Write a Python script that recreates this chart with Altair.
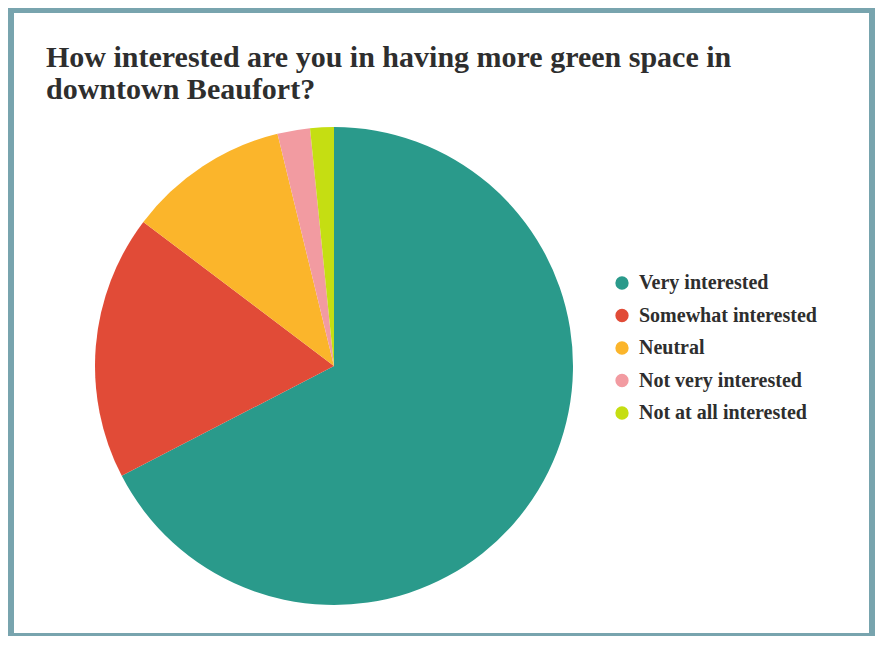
import altair as alt
import pandas as pd

categories = ["Very interested", "Somewhat interested", "Neutral",
              "Not very interested", "Not at all interested"]
values = [67.4, 17.9, 10.9, 2.2, 1.6]
colors = ["#2a9a8b", "#e14b37", "#fbb52b", "#f29ba1", "#c5de12"]

df = pd.DataFrame({"category": categories, "value": values,
                   "order": list(range(len(categories)))})

FONT = "Liberation Serif"
FRAME = "#78a4ae"

chart = alt.Chart(df).mark_arc(radius=239, stroke=None).encode(
    theta=alt.Theta("value:Q", stack=True),
    order=alt.Order("order:Q"),
    color=alt.Color(
        "category:N",
        scale=alt.Scale(domain=categories, range=colors),
        sort=categories,
        legend=alt.Legend(
            title=None, orient="none", legendX=598, legendY=260,
            symbolType="circle", symbolSize=177, symbolStrokeWidth=0,
            labelFont=FONT, labelFontSize=20, labelFontWeight="bold",
            labelColor="#2e2e2e", labelOffset=7, rowPadding=12.5,
            labelLimit=400,
        ),
    ),
    x=alt.value(320),
    y=alt.value(353),
).properties(
    width=855,
    height=620,
    padding={"left": 6, "top": 5, "right": 6, "bottom": 3},
    autosize=alt.AutoSizeParams(type="none"),
    background=FRAME,
    title=alt.TitleParams(
        text=["How interested are you in having more green space in",
              "downtown Beaufort?"],
        anchor="start", frame="group", orient="top", offset=0,
        baseline="alphabetic", dx=32, dy=116, lineHeight=32,
        font=FONT, fontSize=30, fontWeight="bold", color="#2e2e2e",
    ),
).configure_view(fill="white", stroke=None)

chart.save("out.html", embed_options={"renderer": "svg", "actions": False})
